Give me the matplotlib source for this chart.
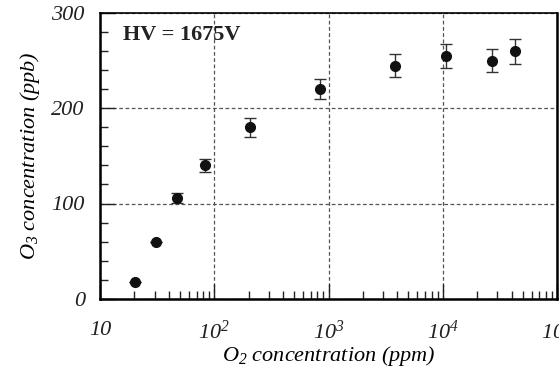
import numpy as np
import matplotlib
matplotlib.use('Agg')
import matplotlib.pyplot as plt
from matplotlib.ticker import FixedLocator, LogLocator, MultipleLocator, FuncFormatter

plt.rcParams['font.family'] = 'Liberation Serif'
plt.rcParams['mathtext.fontset'] = 'custom'
plt.rcParams['mathtext.rm'] = 'Liberation Serif:italic'
plt.rcParams['mathtext.it'] = 'Liberation Serif:italic'

# O2 concentration (ppm) and measured O3 (ppb) with errors
o2_ppm = [20.3, 30.7, 47, 83, 207, 838, 3810, 10600, 26700, 43000]
o3_ppb = [17, 60, 106, 140, 180, 220, 245, 255, 250, 260]
o3_err = [0, 0, 5, 7, 10, 10.5, 12, 13, 12, 13]

fig = plt.figure(figsize=(5.59, 3.70), dpi=100)
ax = fig.add_axes([0.179, 0.193, 0.8175, 0.771])

ax.errorbar(o2_ppm, o3_ppb, yerr=o3_err, fmt='o', color='#111111', ms=7,
            ecolor='#333333', elinewidth=1.0, capsize=4, capthick=1.0, zorder=3)

ax.set_xscale('log')
ax.set_xlim(10, 1e5)
ax.set_ylim(0, 300)

ax.xaxis.set_major_locator(FixedLocator([10, 1e2, 1e3, 1e4, 1e5]))
ax.xaxis.set_minor_locator(LogLocator(base=10, subs=np.arange(2, 10), numticks=20))
ax.xaxis.set_major_formatter(FuncFormatter(
    lambda v, p: '10' if v == 10 else r'$10^{%d}$' % round(np.log10(v))))
ax.yaxis.set_major_locator(MultipleLocator(100))
ax.yaxis.set_minor_locator(MultipleLocator(20))

ax.tick_params(which='both', direction='in', top=False, right=False,
               labelsize=16, colors='#222222', width=1.0)
ax.tick_params(which='major', length=11)
ax.tick_params(axis='y', which='major', pad=11)
ax.tick_params(axis='x', which='major', pad=16)
ax.tick_params(which='minor', length=6)
for lab in ax.get_yticklabels():
    lab.set_style('italic')
    lab.set_va('center_baseline')
for lab in ax.get_xticklabels():
    lab.set_style('italic')

ax.grid(True, which='major', linestyle=(0, (3, 2)), linewidth=0.9, color='#555555')

for s in ['left', 'bottom']:
    ax.spines[s].set_linewidth(1.8)
ax.spines['top'].set_linewidth(1.2)
ax.spines['right'].set_linewidth(1.8)

ax.set_xlabel('$O_2$ concentration (ppm)', fontsize=16, style='italic', labelpad=0)
ax.set_ylabel('$O_3$ concentration (ppb)', fontsize=16, style='italic', labelpad=7)

ax.text(0.05, 0.96, 'HV = 1675V', transform=ax.transAxes, fontsize=16,
        fontweight='bold', va='top', ha='left', color='#222222')

fig.savefig('out.png', dpi=100)
